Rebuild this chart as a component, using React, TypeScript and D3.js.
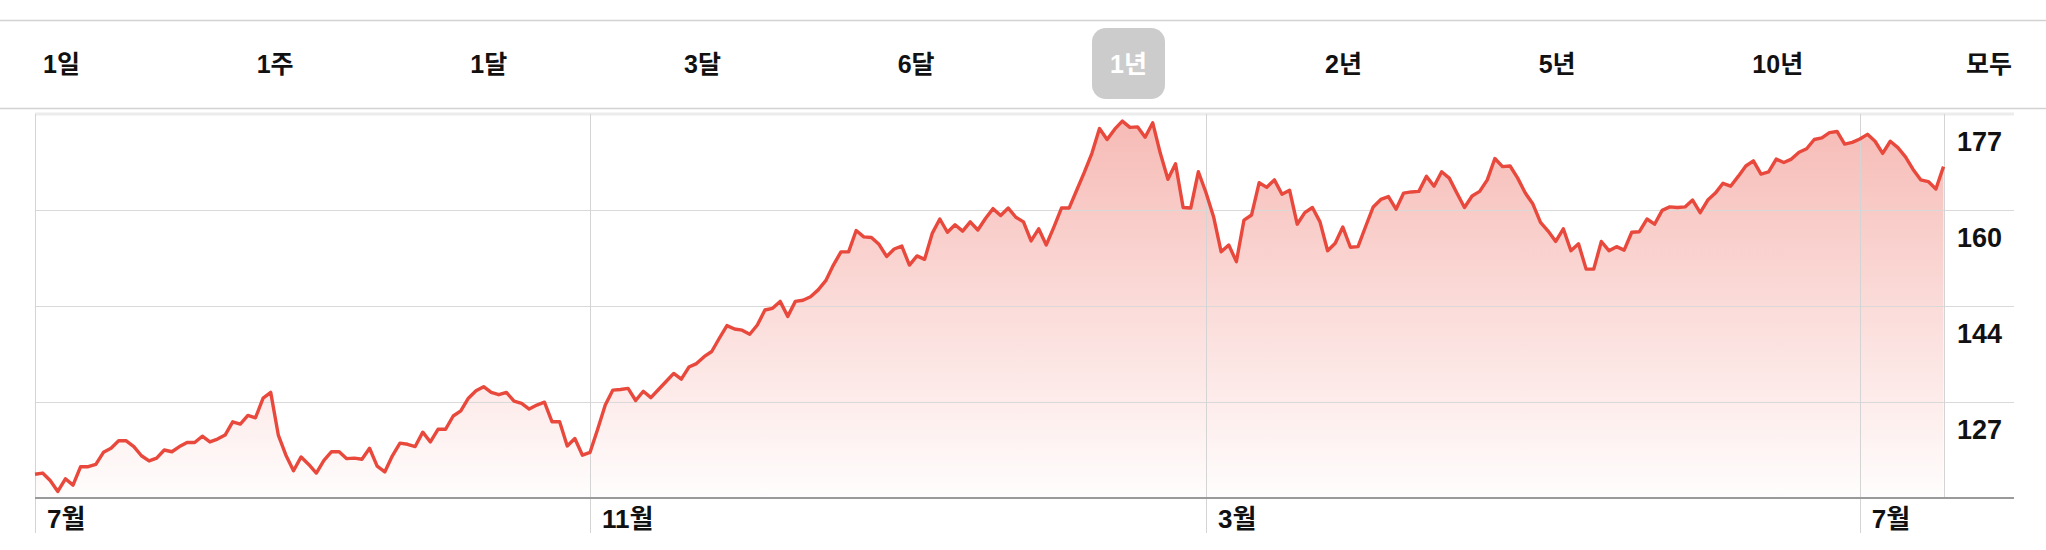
import React from "react";
import * as d3 from "d3";

const rangeTabs = ["1일", "1주", "1달", "3달", "6달", "1년", "2년", "5년", "10년", "모두"];
const selectedTab = 5;

const prices = [
  114.8, 115.0, 113.7, 111.8, 114.0, 112.9, 116.1, 116.1, 116.5, 118.6,
  119.3, 120.6, 120.6, 119.6, 118.0, 117.1, 117.6, 119.0, 118.7, 119.6,
  120.3, 120.3, 121.4, 120.4, 120.9, 121.6, 123.9, 123.5, 125.0, 124.6,
  128.0, 129.0, 121.6, 118.1, 115.4, 117.8, 116.5, 115.0, 117.2, 118.7,
  118.7, 117.5, 117.6, 117.4, 119.3, 116.2, 115.2, 118.0, 120.2, 120.0,
  119.6, 122.1, 120.4, 122.6, 122.6, 124.9, 125.8, 128.0, 129.3, 130.0,
  129.0, 128.6, 129.0, 127.5, 127.1, 126.1, 126.8, 127.3, 123.9, 123.9,
  119.7, 121.0, 118.1, 118.6, 122.6, 126.8, 129.4, 129.5, 129.7, 127.6,
  129.2, 128.1, 129.5, 130.9, 132.3, 131.3, 133.4, 134.0, 135.2, 136.1,
  138.4, 140.6, 140.0, 139.8, 139.1, 140.7, 143.3, 143.6, 144.8, 142.2,
  144.8, 145.0, 145.6, 146.8, 148.4, 151.1, 153.4, 153.4, 157.1, 156.0,
  155.9, 154.7, 152.6, 153.9, 154.4, 151.1, 152.7, 152.1, 156.6, 159.1,
  156.8, 158.1, 157.0, 158.6, 157.2, 159.2, 160.9, 159.7, 161.0, 159.4,
  158.6, 155.3, 157.4, 154.6, 157.7, 161.0, 161.0, 164.1, 167.2, 170.5,
  174.8, 172.9, 174.7, 176.1, 175.0, 175.1, 173.3, 175.8, 170.5, 166.0,
  168.7, 161.1, 161.0, 167.3, 163.7, 159.5, 153.4, 154.6, 151.7, 158.9,
  159.8, 165.4, 164.6, 165.9, 163.4, 164.1, 158.2, 160.2, 161.1, 158.6,
  153.6, 154.9, 157.7, 154.2, 154.3, 157.8, 161.2, 162.5, 163.0, 160.8,
  163.6, 163.8, 163.9, 166.5, 164.8, 167.3, 166.2, 163.6, 161.1, 163.1,
  163.9, 165.9, 169.6, 168.2, 168.3, 166.2, 163.6, 161.7, 158.5, 157.0,
  155.2, 157.4, 153.6, 154.8, 150.4, 150.4, 155.2, 153.6, 154.3, 153.7,
  156.8, 156.9, 159.1, 158.2, 160.6, 161.2, 161.1, 161.2, 162.4, 160.2,
  162.4, 163.6, 165.3, 164.8, 166.5, 168.3, 169.2, 166.9, 167.3, 169.5,
  168.9, 169.5, 170.7, 171.3, 172.9, 173.2, 174.1, 174.3, 172.1, 172.4,
  173.0, 173.8, 172.6, 170.5, 172.6, 171.5, 169.9, 167.7, 165.9, 165.6,
  164.3, 168.2,
];

const monthLabels = ["7월", "11월", "3월", "7월"];
const monthIndices = [0, 73, 154, 240];

const yTickValues = [177.33, 160.67, 144, 127.33];
const yTickLabels = ["177", "160", "144", "127"];
const yDomain = [110.67, 177.33];

const W = 2046;
const H = 550;
const plotLeft = 35;
const plotRight = 1943.5;
const gridRight = 2014;
const plotTop = 114;
const plotBottom = 498;

const FONT = "'Liberation Sans', Arial, 'Noto Sans CJK KR', sans-serif";
const RED = "#e8493c";

export default function App() {
  const x = d3.scaleLinear().domain([0, prices.length - 1]).range([plotLeft, plotRight]);
  const y = d3.scaleLinear().domain(yDomain).range([plotBottom, plotTop]);

  const line = d3
    .line<number>()
    .x((_, i) => x(i))
    .y((d) => y(d));
  const area = d3
    .area<number>()
    .x((_, i) => x(i))
    .y0(plotBottom)
    .y1((d) => y(d));

  const tabX = d3.scaleLinear().domain([0, rangeTabs.length - 1]).range([43, 1966]);

  return (
    <svg
      width={W}
      height={H}
      style={{ position: "absolute", left: 0, top: 0, background: "#fff" }}
      fontFamily={FONT}
    >
      <defs>
        <linearGradient id="fillGrad" gradientUnits="userSpaceOnUse" x1="0" y1={plotTop} x2="0" y2={plotBottom}>
          <stop offset="0" stopColor={RED} stopOpacity={0.38} />
          <stop offset="1" stopColor={RED} stopOpacity={0.01} />
        </linearGradient>
      </defs>

      {/* top tab bar */}
      <line x1={0} x2={W} y1={20.5} y2={20.5} stroke="#d2d2d2" strokeWidth={1.5} />
      <line x1={0} x2={W} y1={108.5} y2={108.5} stroke="#d2d2d2" strokeWidth={1.5} />
      {rangeTabs.map((t, i) => {
        if (i === selectedTab) {
          return (
            <g key={t}>
              <rect x={1092} y={28} width={73} height={71} rx={14} fill="#cccccc" />
              <text x={1128.5} y={64} textAnchor="middle" dominantBaseline="central" fontSize={25} fontWeight="bold" fill="#fff">
                {t}
              </text>
            </g>
          );
        }
        return (
          <text key={t} x={tabX(i)} y={64} dominantBaseline="central" fontSize={25} fontWeight="bold" fill="#111">
            {t}
          </text>
        );
      })}

      {/* area fill */}
      <path d={area(prices) || ""} fill="url(#fillGrad)" />

      {/* top border */}
      <line x1={plotLeft} x2={gridRight} y1={plotTop} y2={plotTop} stroke="#ececec" strokeWidth={3} />

      {/* horizontal grid */}
      {yTickValues.slice(1).map((v) => (
        <line key={v} x1={plotLeft} x2={gridRight} y1={Math.round(y(v)) + 0.5} y2={Math.round(y(v)) + 0.5} stroke="#d9d9d9" strokeWidth={1} />
      ))}

      {/* vertical month lines */}
      {monthIndices.map((mi, k) => (
        <line
          key={k}
          x1={Math.round(x(mi)) + 0.5}
          x2={Math.round(x(mi)) + 0.5}
          y1={plotTop}
          y2={533}
          stroke="#d4d4d4"
          strokeWidth={1}
        />
      ))}
      <line x1={Math.round(plotRight) + 0.5} x2={Math.round(plotRight) + 0.5} y1={plotTop} y2={plotBottom} stroke="#d4d4d4" strokeWidth={1} />

      {/* bottom axis */}
      <line x1={plotLeft} x2={gridRight} y1={plotBottom} y2={plotBottom} stroke="#9a9a9a" strokeWidth={2} />

      {/* price line */}
      <path d={line(prices) || ""} fill="none" stroke={RED} strokeWidth={3.4} strokeLinejoin="round" />

      {/* y labels */}
      {yTickValues.map((v, i) => (
        <text key={v} x={1957} y={y(v) + 28} dominantBaseline="central" fontSize={27} fontWeight="bold" fill="#111">
          {yTickLabels[i]}
        </text>
      ))}

      {/* month labels */}
      {monthIndices.map((mi, k) => (
        <text key={k} x={x(mi) + 12} y={519} dominantBaseline="central" fontSize={26} fontWeight="bold" fill="#111">
          {monthLabels[k]}
        </text>
      ))}
    </svg>
  );
}
